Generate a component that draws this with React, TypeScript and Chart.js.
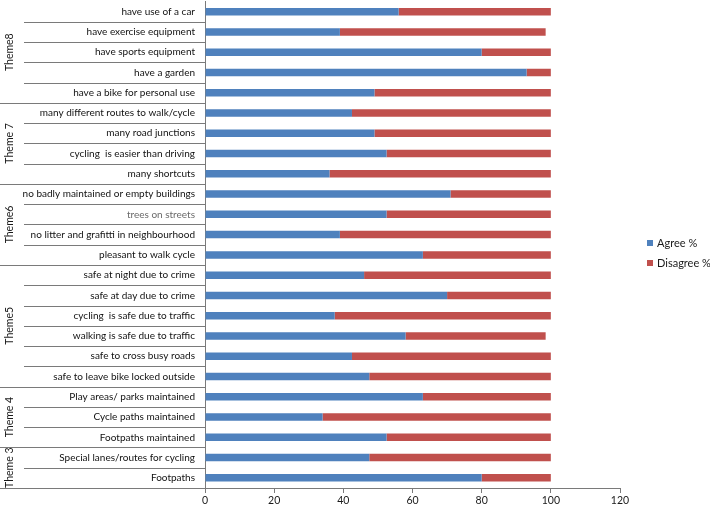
import { useEffect, useRef } from "react";
import { Chart, registerables } from "chart.js";

Chart.register(...registerables);

const categories = [
  "have use of a car",
  "have exercise equipment",
  "have sports equipment",
  "have a garden",
  "have a bike for personal use",
  "many different routes to walk/cycle",
  "many road junctions",
  "cycling  is easier than driving",
  "many shortcuts",
  "no badly maintained or empty buildings",
  "trees on streets",
  "no litter and grafitti in neighbourhood",
  "pleasant to walk cycle",
  "safe at night due to crime",
  "safe at day due to crime",
  "cycling  is safe due to traffic",
  "walking is safe due to traffic",
  "safe to cross busy roads",
  "safe to leave bike locked outside",
  "Play areas/ parks maintained",
  "Cycle paths maintained",
  "Footpaths maintained",
  "Special lanes/routes for cycling",
  "Footpaths",
];

const agree = [56, 39, 80, 93, 49, 42.5, 49, 52.5, 36, 71, 52.5, 39, 63, 46, 70, 37.5, 58, 42.5, 47.5, 63, 34, 52.5, 47.5, 80];
const disagree = [44, 59.5, 20, 7, 51, 57.5, 51, 47.5, 64, 29, 47.5, 61, 37, 54, 30, 62.5, 40.5, 57.5, 52.5, 37, 66, 47.5, 52.5, 20];

const themes = ["Theme8", "Theme 7", "Theme6", "Theme5", "Theme 4", "Theme 3"];
const themeSizes = [5, 4, 4, 6, 3, 2];

const xTicks = [0, 20, 40, 60, 80, 100, 120];

const seriesNames = ["Agree %", "Disagree %"];
const BLUE = "#4F81BD";
const RED = "#C0504D";
const FONT = "Lato";

export default function App() {
  const canvasRef = useRef<HTMLCanvasElement | null>(null);

  useEffect(() => {
    const canvas = canvasRef.current;
    if (!canvas) return;

    const decor = {
      id: "decor",
      afterDraw(chart: any) {
        const ctx = chart.ctx;
        const area = chart.chartArea;
        const y = chart.scales.y;
        const n = categories.length;
        const rowH = (area.bottom - area.top) / n;
        const groupStarts = new Set<number>();
        let acc = 0;
        themeSizes.forEach((s) => {
          acc += s;
          groupStarts.add(acc);
        });
        ctx.save();
        ctx.strokeStyle = "#7a7a7a";
        ctx.lineWidth = 1;
        for (let i = 1; i <= n; i++) {
          const yy = Math.round(y.getPixelForValue(i) - rowH / 2) + 0.5;
          const x0 = groupStarts.has(i) ? 0 : 24;
          ctx.beginPath();
          ctx.moveTo(x0, yy);
          ctx.lineTo(area.left, yy);
          ctx.stroke();
        }
        // theme labels
        ctx.fillStyle = "#1a1a1a";
        ctx.font = `10.5px ${FONT}`;
        ctx.textAlign = "center";
        ctx.textBaseline = "middle";
        let start = 0;
        themes.forEach((t, gi) => {
          const end = start + themeSizes[gi];
          const top = y.getPixelForValue(start) - rowH / 2;
          const bot = y.getPixelForValue(end - 1) + rowH / 2;
          ctx.save();
          ctx.translate(10, (top + bot) / 2);
          ctx.rotate(-Math.PI / 2);
          ctx.fillText(t, 0, 0);
          ctx.restore();
          start = end;
        });
        // legend
        const colors = [BLUE, RED];
        ctx.textAlign = "left";
        ctx.font = `11px ${FONT}`;
        seriesNames.forEach((s, i) => {
          const cy = 243 + i * 20;
          ctx.fillStyle = colors[i];
          ctx.fillRect(647, cy - 3, 6, 6);
          ctx.fillStyle = "#1a1a1a";
          ctx.fillText(s, 657, cy + 0.5);
        });
        ctx.restore();
      },
    };

    const chart = new Chart(canvas, {
      type: "bar",
      data: {
        labels: categories,
        datasets: [
          { label: seriesNames[0], data: agree, backgroundColor: BLUE },
          { label: seriesNames[1], data: disagree, backgroundColor: RED },
        ],
      },
      options: {
        indexAxis: "y",
        animation: false,
        responsive: false,
        layout: { padding: { top: 1.5, right: 90, left: 0, bottom: 0 } },
        datasets: { bar: { categoryPercentage: 1, barPercentage: 0.37 } },
        plugins: { legend: { display: false }, tooltip: { enabled: false } },
        scales: {
          x: {
            stacked: true,
            min: 0,
            max: 120,
            afterBuildTicks(scale: any) {
              scale.ticks = xTicks.map((v) => ({ value: v }));
            },
            afterFit(scale: any) {
              scale.height = 20;
              scale.paddingLeft = 0;
              scale.paddingRight = 0;
            },
            grid: { drawOnChartArea: false, drawTicks: true, tickLength: 5, color: "#7a7a7a" },
            border: { display: true, color: "#7a7a7a" },
            ticks: { color: "#1a1a1a", font: { family: FONT, size: 10.5 }, padding: 1, maxRotation: 0 },
          },
          y: {
            stacked: true,
            offset: true,
            afterFit(scale: any) {
              scale.width = 205;
              scale.paddingTop = 0;
              scale.paddingBottom = 0;
            },
            grid: { display: false, drawTicks: false },
            border: { display: true, color: "#7a7a7a" },
            ticks: {
              autoSkip: false,
              padding: 10,
              font: { family: FONT, size: 10 },
              color: (c: any) => (c.index === 10 ? "#6a6a6a" : "#111"),
            },
          },
        },
      },
      plugins: [decor],
    } as any);

    return () => chart.destroy();
  }, []);

  return (
    <div style={{ position: "fixed", left: 0, top: 0, width: 710, height: 508, background: "#fff" }}>
      <canvas ref={canvasRef} width={710} height={508} style={{ display: "block" }} />
    </div>
  );
}
